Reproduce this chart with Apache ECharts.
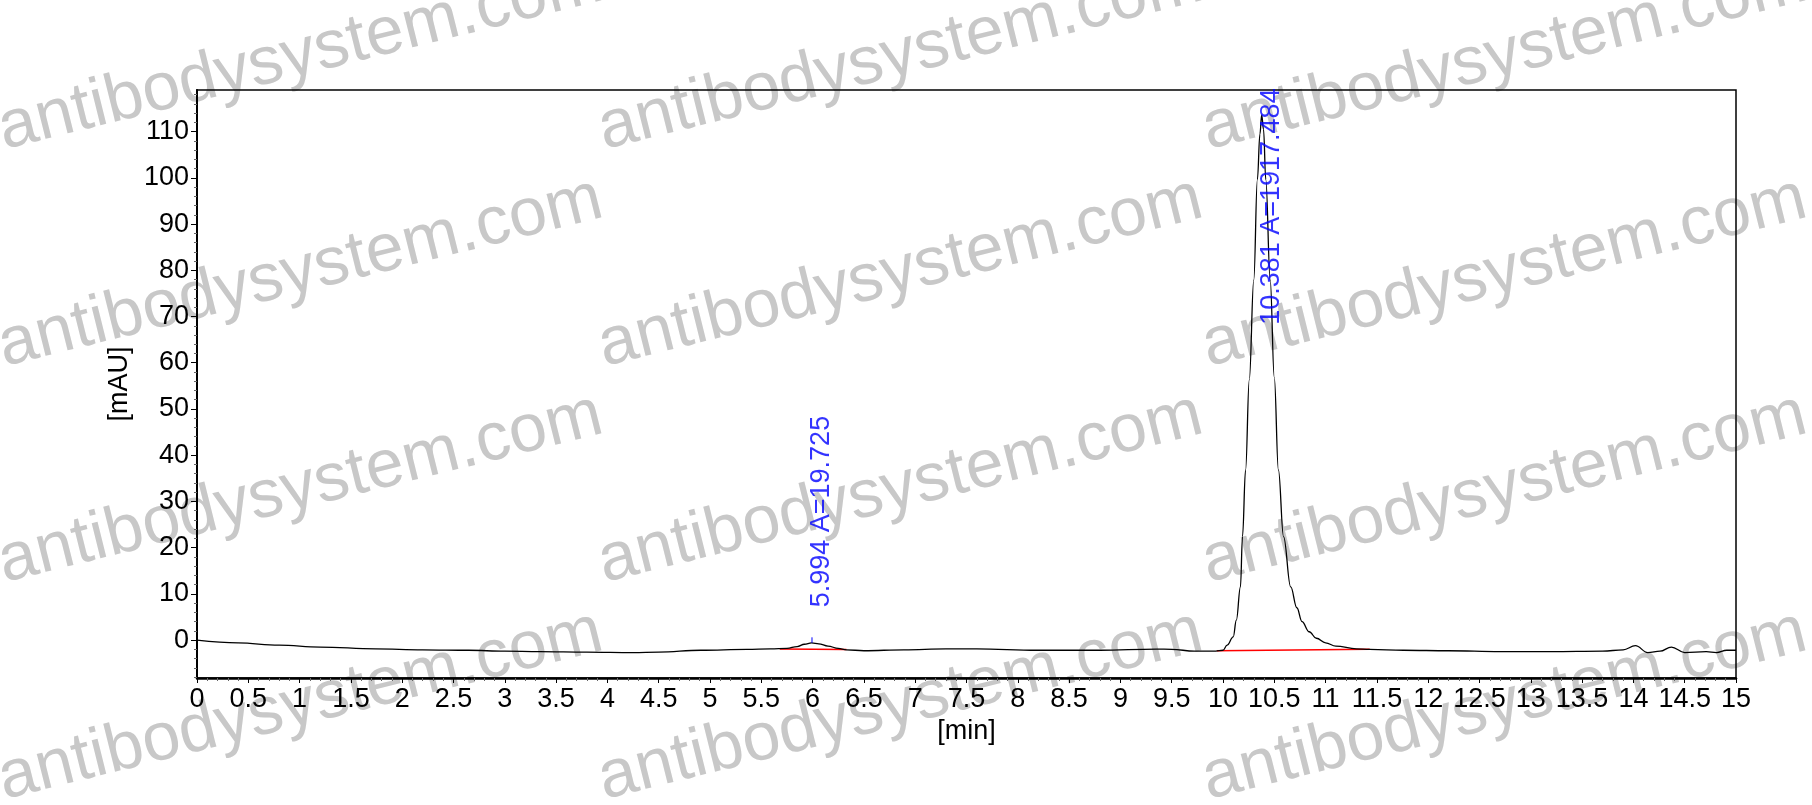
<!DOCTYPE html>
<html>
<head>
<meta charset="utf-8">
<script src="https://cdn.jsdelivr.net/npm/echarts@6/dist/echarts.min.js"></script>
<style>
  html, body { margin: 0; padding: 0; background: #fff; }
  #main { width: 1812px; height: 805px; }
</style>
</head>
<body>
<div id="main"></div>
<script>
// chromatogram trace: [min, mAU]
var traceTime = [0, 0.4, 0.8, 1.2, 1.74, 2.2, 2.65, 3.0, 3.34, 3.8, 4.25, 4.5, 4.91, 5.36, 5.59,
  5.75, 5.85, 5.92, 5.99, 6.06, 6.15, 6.25, 6.33, 6.5, 6.89, 7.3, 7.6, 8.19, 8.8, 9.35, 9.5,
  9.72, 9.93, 10.0, 10.04, 10.1, 10.13, 10.17, 10.19, 10.22, 10.256, 10.3, 10.335, 10.36,
  10.377, 10.395, 10.417, 10.46, 10.5, 10.54, 10.59, 10.66, 10.72, 10.77, 10.84, 10.91, 11.0,
  11.1, 11.3, 11.43, 11.76, 12.2, 12.7, 13.2, 13.7, 13.9, 14.02, 14.14, 14.26, 14.37, 14.5,
  14.71, 14.81, 14.91, 15.0];
var traceValue = [0, -0.6, -1.1, -1.5, -1.9, -2.1, -2.2, -2.4, -2.5, -2.6, -2.7, -2.6, -2.2, -2.0, -1.9,
  -1.8, -1.4, -0.9, -0.6, -0.8, -1.3, -1.8, -2.1, -2.3, -2.1, -1.9, -1.9, -2.2, -2.2, -1.95, -2.0,
  -2.4, -2.4, -2.2, -1.1, 0.7, 4.3, 11.5, 22.4, 36.8, 56.3, 77.9, 99.6, 109.5,
  113.6, 110.5, 99.6, 77.9, 56.8, 36.8, 22.4, 11.5, 7.0, 4.0, 1.8, 0.4, -0.6,
  -1.3, -1.9, -2.0, -2.2, -2.3, -2.5, -2.5, -2.4, -2.1, -1.2, -2.7, -2.4, -1.5, -2.7,
  -2.5, -2.7, -2.2, -2.2];

// integration baselines (red)
var base1 = [[5.68, -1.9], [6.33, -2.05]];
var base2 = [[9.94, -2.3], [11.43, -2.0]];

// peaks
var peakTimes = [5.994, 10.381];
var peakAreas = [19.725, 1917.484];
var peakApex = [-0.6, 113.6];
var labelAnchor = [7.1, 68.2];

var yTicks = [0, 10, 20, 30, 40, 50, 60, 70, 80, 90, 100, 110];
var yMinorTicks = [-8, -6, -4, -2, 2, 4, 6, 8, 12, 14, 16, 18, 22, 24, 26, 28, 32, 34, 36, 38,
  42, 44, 46, 48, 52, 54, 56, 58, 62, 64, 66, 68, 72, 74, 76, 78, 82, 84, 86, 88,
  92, 94, 96, 98, 102, 104, 106, 108, 112, 114, 116, 118];

var FONT = 'Liberation Sans, Arial, sans-serif';

var chart = echarts.init(document.getElementById('main'));

var trace = traceTime.map(function (t, i) { return [t, traceValue[i]]; });
var labelData = peakTimes.map(function (t, i) { return [t, labelAnchor[i], peakAreas[i]]; });

// watermark text, under everything
var marks = [];
[8, 608, 1212].forEach(function (x) {
  [150, 367, 583, 800].forEach(function (y) {
    marks.push({
      type: 'text',
      x: x,
      y: y + 14,
      rotation: 14 * Math.PI / 180,
      z: -10,
      silent: true,
      style: {
        text: 'antibodysystem.com',
        fill: '#c8c8c8',
        font: '68px ' + FONT,
        textAlign: 'left',
        textVerticalAlign: 'bottom'
      }
    });
  });
});

var option = {
  backgroundColor: '#fff',
  animation: false,
  graphic: marks,
  grid: {
    left: 197,
    right: 76,
    top: 90,
    bottom: 127,
    show: true,
    borderColor: '#000',
    borderWidth: 1.5
  },
  xAxis: {
    type: 'value',
    min: 0,
    max: 15,
    interval: 0.5,
    name: '[min]',
    nameLocation: 'middle',
    nameGap: 40,
    nameTextStyle: { color: '#000', fontSize: 27, fontFamily: FONT },
    axisLine: { onZero: false, lineStyle: { color: '#000', width: 2.5 } },
    axisTick: { show: true, length: 5, lineStyle: { color: '#000', width: 1 } },
    minorTick: { show: true, splitNumber: 5, length: 3, lineStyle: { color: '#666' } },
    splitLine: { show: false },
    axisLabel: { color: '#000', fontSize: 27, fontFamily: FONT, margin: 8 }
  },
  yAxis: [{
    type: 'value',
    min: -8.2,
    max: 119,
    name: '[mAU]',
    nameLocation: 'middle',
    nameGap: 52,
    nameRotate: 90,
    nameTextStyle: { color: '#000', fontSize: 27, fontFamily: FONT },
    axisLine: { show: true, lineStyle: { color: '#000', width: 2 } },
    axisTick: { show: true, length: 6, customValues: yTicks, lineStyle: { color: '#000' } },
    splitLine: { show: false },
    axisLabel: { color: '#000', fontSize: 27, fontFamily: FONT, margin: 8, customValues: yTicks }
  }, {
    type: 'value',
    min: -8.2,
    max: 119,
    position: 'left',
    axisLine: { show: false },
    axisTick: { show: true, length: 3, customValues: yMinorTicks, lineStyle: { color: '#666' } },
    axisLabel: { show: false },
    splitLine: { show: false }
  }],
  series: [{
    name: 'baseline 1',
    type: 'line',
    data: base1,
    symbol: 'none',
    z: 3,
    lineStyle: { color: '#ff0000', width: 1.5 }
  }, {
    name: 'baseline 2',
    type: 'line',
    data: base2,
    symbol: 'none',
    z: 3,
    lineStyle: { color: '#ff0000', width: 1.5 }
  }, {
    name: 'trace',
    type: 'line',
    data: trace,
    symbol: 'none',
    smooth: 0.4,
    smoothMonotone: 'x',
    z: 4,
    lineStyle: { color: '#000', width: 1.3 }
  }, {
    name: 'apex mark',
    type: 'line',
    data: [[peakTimes[0], peakApex[0]], [peakTimes[0], peakApex[0] + 1.2]],
    symbol: 'none',
    z: 5,
    lineStyle: { color: '#0000ff', width: 1 }
  }, {
    name: 'peak labels',
    type: 'scatter',
    data: labelData,
    symbol: 'circle',
    symbolSize: 1,
    itemStyle: { color: 'rgba(0,0,0,0)' },
    z: 6,
    label: {
      show: true,
      position: 'right',
      distance: 9,
      rotate: 90,
      color: '#0000ff',
      fontSize: 27,
      fontFamily: FONT,
      formatter: function (p) {
        return p.value[0].toFixed(3) + ' A=' + p.value[2].toFixed(3);
      }
    }
  }]
};
chart.setOption(option);
</script>
</body>
</html>
